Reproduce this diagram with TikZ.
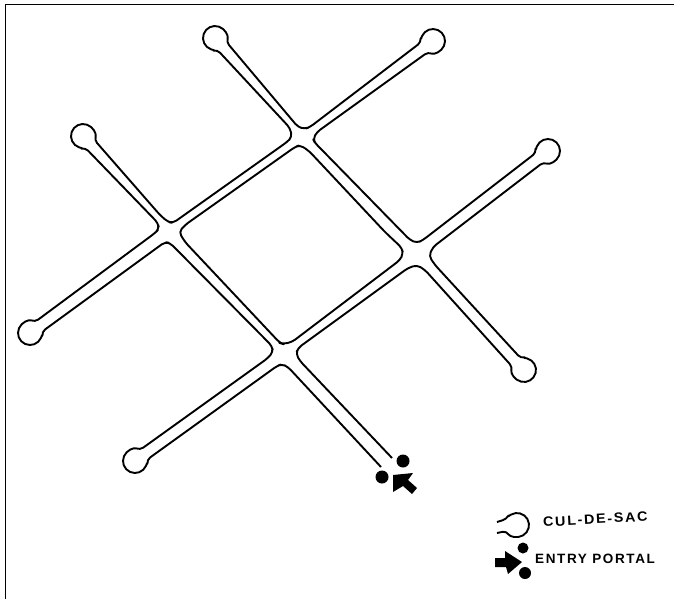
\documentclass[tikz,border=0pt]{standalone}
\usepackage{fontspec}
\setmainfont[LetterSpace=12]{Liberation Sans}
\usepackage{tikz}
\usetikzlibrary{calc}
\tikzstyle{curb} = [line width=1.9pt, rounded corners=4pt, line join=round]
\tikzstyle{portal} = [circle, fill=black, inner sep=0pt]
\tikzstyle{legendtext} = [font=\fontsize{13.5}{13.5}\selectfont\bfseries, inner sep=0pt]
\newcommand{\culdesac}[2]{-- ($(#1)+(#2-30:12)$) arc[start angle=#2-30, end angle=#2-330, radius=12]}

\begin{document}
\begin{tikzpicture}[x=1pt, y=-1pt]
    \useasboundingbox (0,0) rectangle (674,599);

    % Frame
    \draw [line width=1.6pt] (5.5,599) -- (5.5,4.5) -- (674,4.5);

    % Cul-de-sac centres
    \coordinate (sacA) at (215,38);
    \coordinate (sacC) at (433,41);
    \coordinate (sacD) at (548,151);
    \coordinate (sacE) at (524,370);
    \coordinate (sacF) at (30,333);
    \coordinate (sacG) at (135,461);
    \coordinate (sacH) at (83,136);
    \coordinate (sacKey) at (517,525);

    % Outer curb, from the entry round all the arms
    \draw [curb] (392,458) -- (300,361) -- (296,354) -- (298,348)
        -- (408,268) -- (417,265) -- (425,270) \culdesac{sacE}{225}
        -- (435,265) -- (429,256) -- (433,247) \culdesac{sacD}{142}
        -- (423,240) -- (417,243) -- (410,240) -- (322,150) -- (315,143) -- (313,139) -- (317,132) \culdesac{sacC}{144}
        -- (310,127) -- (305,129) -- (298,127) \culdesac{sacA}{49}
        -- (290,128) -- (292,137) -- (287,142) -- (173,223) -- (168,222) -- (160,215) \culdesac{sacH}{49}
        -- (158,223) -- (159,229) -- (155,233) \culdesac{sacF}{-36}
        -- (165,242) -- (170,243) -- (177,250) -- (272,346) -- (273,352) -- (268,358) \culdesac{sacG}{-36}
        -- (277,366) -- (282,364) -- (288,367) -- (381,467);

    % Central block
    \draw [curb] (300,145) -- (309,151) -- (385,232) -- (402,248) -- (403,254) -- (400,260)
        -- (292,342) -- (283,344) -- (280,343) -- (185,242) -- (179,232) -- (185,225)
        -- (295,147) -- cycle;

    % Entry portal
    \node (gateA) [portal, minimum size=13pt] at (403,461) {};
    \node (gateB) [portal, minimum size=13pt] at (382,477) {};
    \fill (393,475) -- (413,473) -- (408,480) -- (417,488) -- (412,494) -- (403,486) -- (393,492) -- cycle;

    % Legend
    \draw [curb] (497,533) \culdesac{sacKey}{180} -- (497,522);
    \node (culdesac) [legendtext, anchor=west, rotate=3, xscale=1.06] at (543,522) {CUL-DE-SAC};
    \node (legendA) [portal, minimum size=11pt] at (523,548) {};
    \node (legendB) [portal, minimum size=12pt] at (525,573) {};
    \fill (495,558) -- (505,558) -- (505,551) -- (522,562) -- (508,574) -- (506,567) -- (495,567) -- cycle;
    \node (entry) [legendtext, anchor=west] at (535,559) {ENTRY PORTAL};
\end{tikzpicture}
\end{document}
